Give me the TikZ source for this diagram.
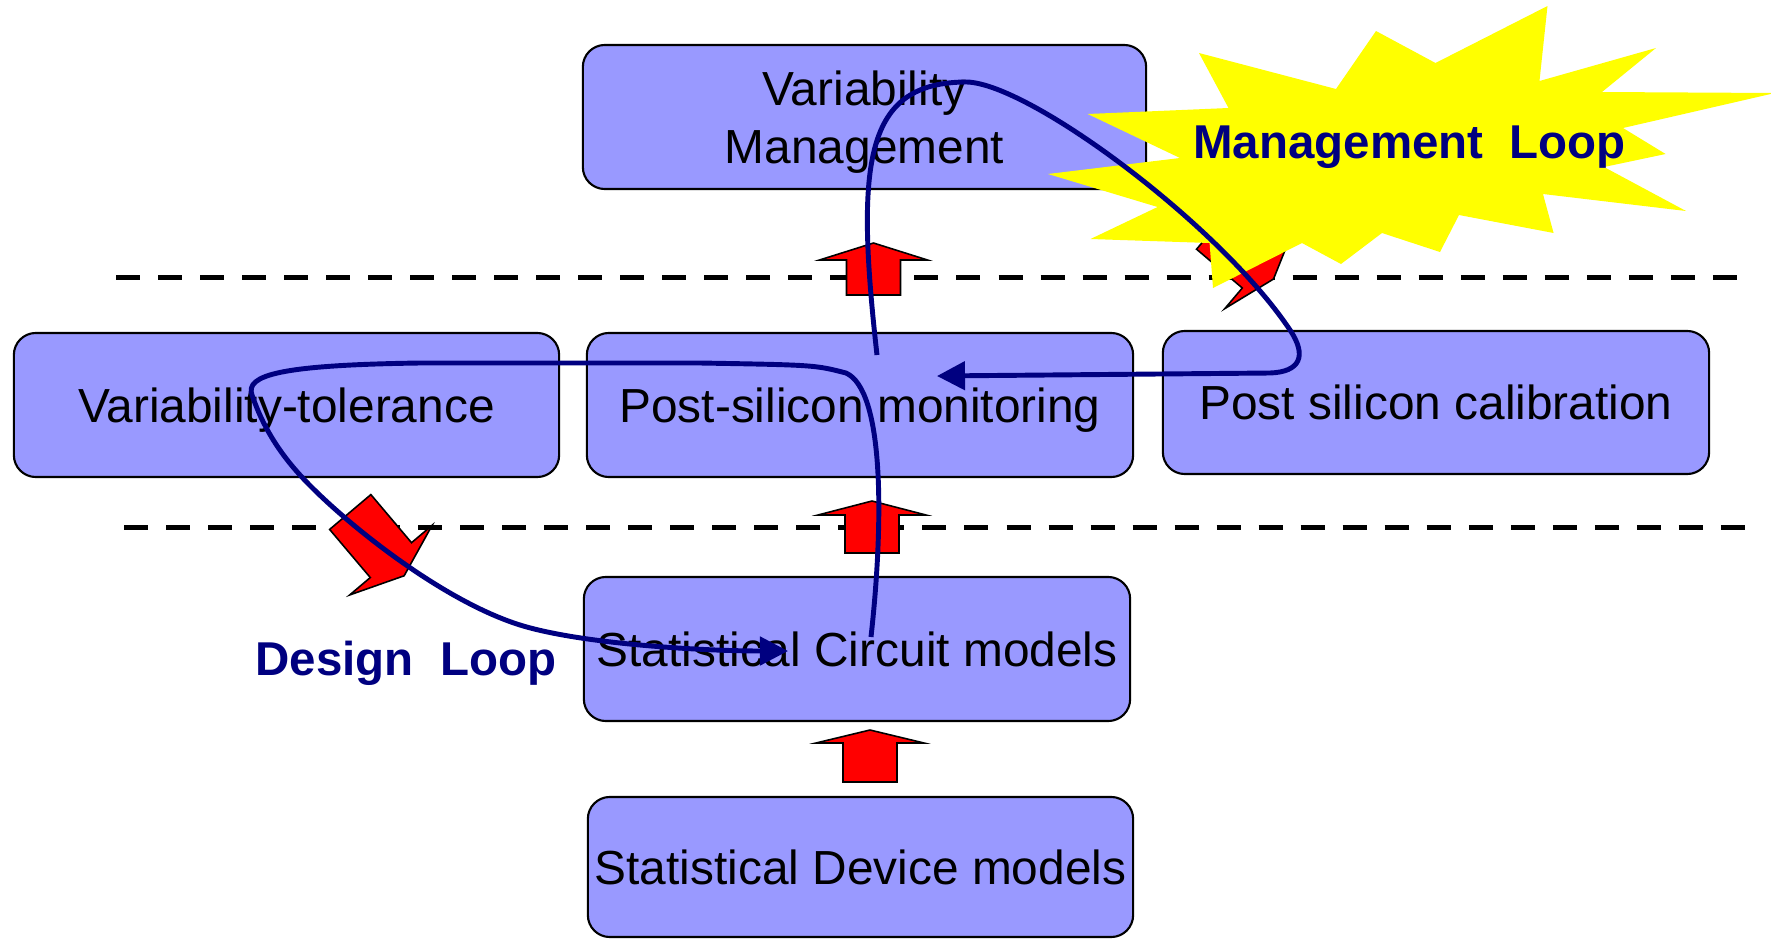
\documentclass[tikz,border=0pt]{standalone}
\usepackage{fontspec}
\setmainfont{Liberation Sans}
\usetikzlibrary{arrows.meta}
\definecolor{boxblue}{HTML}{9999FF}
\definecolor{loopblue}{HTML}{000080}
\definecolor{burst}{HTML}{FFFF00}
\newcommand{\blockarrow}[5]{%
  \begin{scope}[shift={(#1,#2)},rotate=#3]
    \draw[redarrow] (0,27) -- (#4,27) -- (#4,54) -- ({#4+#5},0) -- (#4,-54) -- (#4,-27) -- (0,-27) -- cycle;
  \end{scope}}
\begin{document}
\begin{tikzpicture}[x=0.01cm,y=-0.01cm,
  box/.style={draw=black, line width=0.6pt, fill=boxblue, rounded corners=0.22cm,
    minimum width=5.46cm, minimum height=1.44cm, inner sep=0pt,
    font=\fontsize{13.6pt}{16.3pt}\selectfont, text height=9.74pt, text depth=0pt},
  redarrow/.style={draw=black, line width=0.45pt, fill=red, line join=miter},
  dashline/.style={line width=0.05cm, dash pattern=on 0.24cm off 0.18cm},
  loop/.style={draw=loopblue, line width=1.4pt},
  looptip/.style={-{Triangle[length=0.28cm,width=0.28cm]}},
  looplabel/.style={text=loopblue, font=\fontsize{13.5pt}{16pt}\selectfont\bfseries, anchor=base, inner sep=0pt}]
\useasboundingbox (0,0) rectangle (1771,939);
\fill[white] (0,0) rectangle (1771,939);

% boxes
\node[box, minimum width=5.63cm, text depth=16.0pt] (vm) at (864.5,117)
  {\begin{tabular}[t]{@{}c@{}}Variability\\Management\end{tabular}};
\node[box, minimum width=5.45cm] (vt) at (286.5,405) {Variability-tolerance};
\node[box] (psm) at (860,405) {Post-silicon monitoring};
\node[box, minimum height=1.43cm] (psc) at (1436,402.5) {Post silicon calibration};
\node[box] (scm) at (857,649) {Statistical Circuit models};
\node[box, minimum width=5.45cm, minimum height=1.40cm] (sdm) at (860.5,867) {Statistical Device models};

% dashed separators
\draw[dashline] (116,277) -- (1737,277);
\draw[dashline] (124,527) -- (1748,527);

% red block arrows
\blockarrow{873.5}{295}{90}{35}{17}
\blockarrow{872}{553}{90}{38}{14}
\blockarrow{870}{782}{90}{39}{13}
\blockarrow{350.25}{512}{-49.8}{63}{20.5}
\blockarrow{1214}{228.6}{-40.3}{60}{18}

% burst
\fill[burst] (1547.5,6) -- (1539.5,81) -- (1656,48) -- (1602,92) -- (1775,93) -- (1623,128)
  -- (1665.6,154) -- (1604,167) -- (1686,211) -- (1543,194) -- (1553.6,233) -- (1459,215)
  -- (1440,252) -- (1382,233) -- (1341,264) -- (1302,243) -- (1213,288) -- (1209.6,243)
  -- (1090.5,239) -- (1157.6,207) -- (1048,174) -- (1180,158) -- (1087.7,114) -- (1228.5,108)
  -- (1199,53) -- (1336,89) -- (1376,31) -- (1435.5,63) -- cycle;
\node[looplabel] (mlabel) at (1409.7,158) {Management~~Loop};
\node[looplabel] (dlabel) at (405.7,675) {Design~~Loop};

% management loop
\coordinate (mstart) at (877,355);
\coordinate (mpeak) at (967,82);
\coordinate (mturn) at (1290,330);
\coordinate (mback) at (1270,373);
\coordinate (mend) at (937,376);
\draw[loop, looptip] (mstart) .. controls (855,160) and (865,82) .. (mpeak)
  .. controls (1030,84) and (1220,225) .. (mturn)
  .. controls (1307.5,356) and (1300,372) .. (mback) -- (mend);

% design loop
\coordinate (dstart) at (871,637);
\coordinate (d1) at (846,373);
\coordinate (d2) at (700,363);
\coordinate (d3) at (420,363);
\coordinate (d4) at (252,395);
\coordinate (d5) at (300,475);
\coordinate (d6) at (520,625);
\coordinate (dend) at (788,651);
\draw[loop, looptip] (dstart) .. controls (884,520) and (884,390) .. (d1)
  .. controls (815,365) .. (d2) -- (d3)
  .. controls (280,365) and (245,375) .. (d4)
  .. controls (257,409) and (268,440) .. (d5)
  .. controls (340,519) and (440,600) .. (d6)
  .. controls (580,643.75) and (700,651) .. (dend);
\end{tikzpicture}
\end{document}
